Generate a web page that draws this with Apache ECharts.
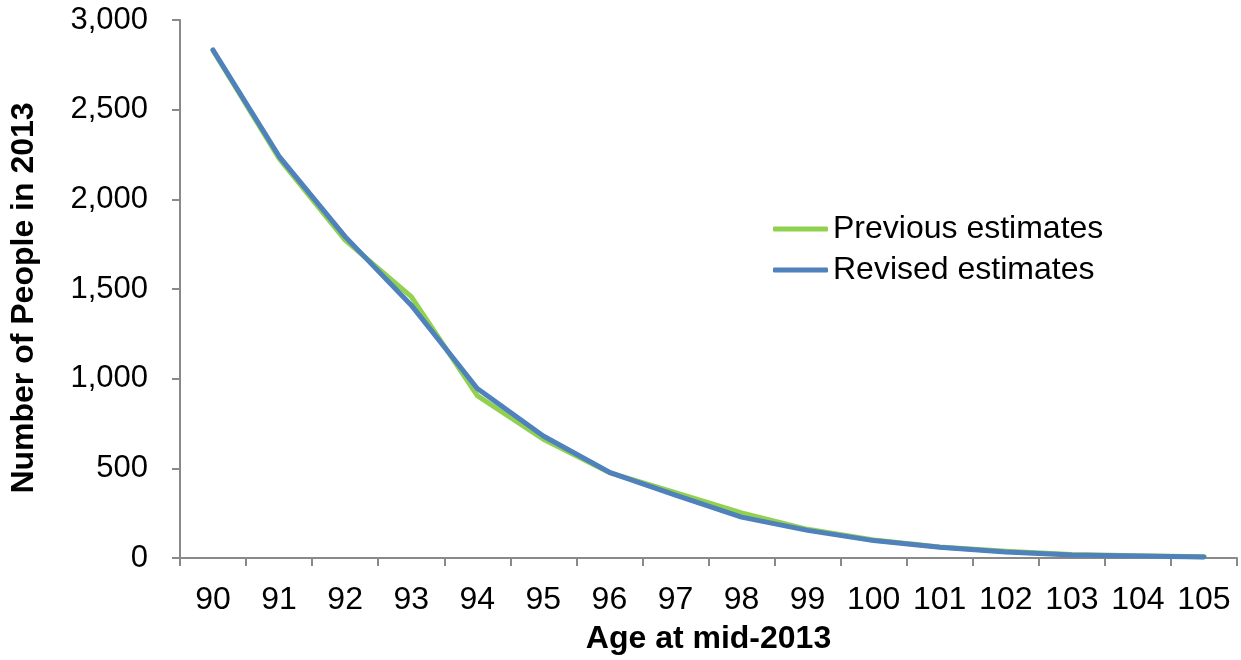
<!DOCTYPE html>
<html>
<head>
<meta charset="utf-8">
<script src="https://cdn.jsdelivr.net/npm/echarts@6/dist/echarts.min.js"></script>
<style>html,body{margin:0;padding:0;background:#fff}#c{width:1241px;height:660px}</style>
</head>
<body>
<div id="c"></div>
<script>
const categories = ['90','91','92','93','94','95','96','97','98','99','100','101','102','103','104','105'];
const previousEstimates = [2830, 2228, 1772, 1458, 905, 662, 476, 365, 252, 160, 100, 62, 38, 20, 12, 7];
const revisedEstimates  = [2833, 2240, 1792, 1410, 945, 680, 478, 350, 228, 154, 97, 60, 33, 17, 11, 6];
const yTicks = [0, 500, 1000, 1500, 2000, 2500, 3000];

const chart = echarts.init(document.getElementById('c'), null, {renderer: 'canvas'});
const axisGray = '#898989';
const font = 'Liberation Sans, Arial, sans-serif';
chart.setOption({
  animation: false,
  grid: {left: 178, right: 4, top: 20, bottom: 101, containLabel: false},
  legend: {
    orient: 'vertical', left: 768, top: 208, itemWidth: 55, itemHeight: 5, itemGap: 9,
    icon: 'roundRect',
    textStyle: {fontFamily: font, fontSize: 32, color: '#000'},
    data: ['Previous estimates', 'Revised estimates']
  },
  xAxis: {
    type: 'category', data: categories, boundaryGap: true,
    name: 'Age at mid-2013', nameLocation: 'middle', nameGap: 65,
    nameTextStyle: {fontFamily: font, fontSize: 32, fontWeight: 'bold', color: '#000'},
    axisLine: {lineStyle: {color: axisGray, width: 2}},
    axisTick: {show: true, alignWithLabel: false, length: 8, lineStyle: {color: axisGray, width: 2}},
    axisLabel: {fontFamily: font, fontSize: 32, color: '#000', margin: 26, interval: 0},
    splitLine: {show: false}
  },
  yAxis: {
    type: 'value', min: yTicks[0], max: yTicks[yTicks.length-1], interval: 500,
    name: 'Number of People in 2013', nameLocation: 'middle', nameGap: 140, nameRotate: 90,
    nameTextStyle: {fontFamily: font, fontSize: 32, fontWeight: 'bold', color: '#000', padding: [0, 18, 0, 0]},
    axisLine: {show: true, lineStyle: {color: axisGray, width: 2}},
    axisTick: {show: true, length: 8, lineStyle: {color: axisGray, width: 2}},
    axisLabel: {fontFamily: font, fontSize: 31, color: '#000', margin: 32,
      formatter: v => v.toLocaleString('en-US')},
    splitLine: {show: false}
  },
  series: [
    {name: 'Previous estimates', type: 'line', data: previousEstimates, symbol: 'none', showSymbol: false,
     lineStyle: {color: '#92D050', width: 5, cap: 'round', join: 'round'}, itemStyle: {color: '#92D050'}},
    {name: 'Revised estimates', type: 'line', data: revisedEstimates, symbol: 'none', showSymbol: false,
     lineStyle: {color: '#4F81BD', width: 5, cap: 'round', join: 'round'}, itemStyle: {color: '#4F81BD'}}
  ]
});
</script>
</body>
</html>
